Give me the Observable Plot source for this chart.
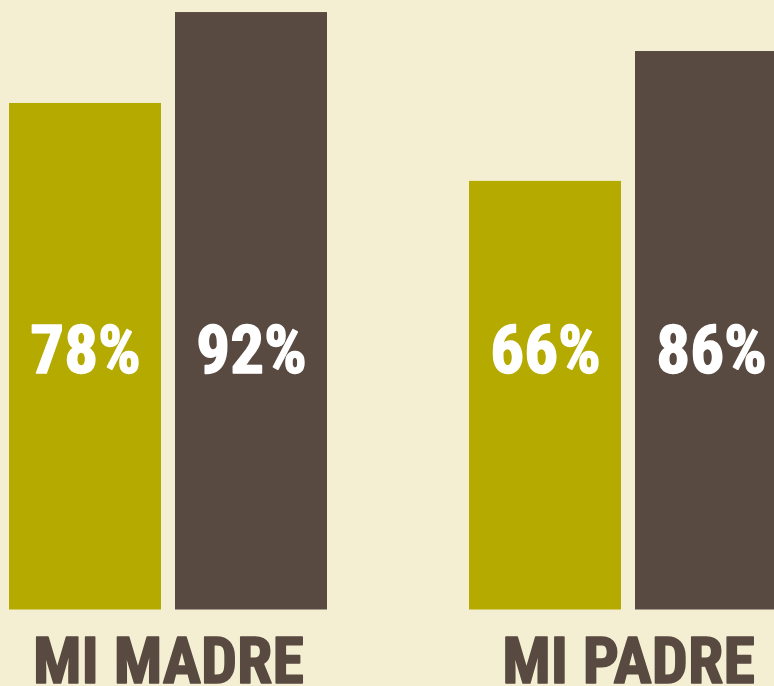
<!DOCTYPE html>
<html>
<head>
<meta charset="utf-8">
<script src="https://cdn.jsdelivr.net/npm/d3@7"></script>
<script src="https://cdn.jsdelivr.net/npm/@observablehq/plot@0.6"></script>
<style>
  html, body { margin: 0; padding: 0; background: #f4efd3; }
  #chart { width: 774px; height: 686px; overflow: hidden; }
</style>
</head>
<body>
<div id="chart"></div>
<script>
// Data
const categories = ["MI MADRE", "MI PADRE"];
const series = ["Serie A", "Serie B"];
const valuesA = [78, 66];
const valuesB = [92, 86];
const colors = ["#b5aa00", "#594a41"];

const data = categories.flatMap((c, i) => [
  {group: c, series: series[0], value: valuesA[i]},
  {group: c, series: series[1], value: valuesB[i]}
]);

const font = '"Liberation Sans Narrow", "Roboto Condensed", "DejaVu Sans Condensed", "Liberation Sans", sans-serif';

const chart = Plot.plot({
  width: 774,
  height: 686,
  marginTop: 92,
  marginBottom: 76,
  marginLeft: 0,
  marginRight: 0,
  style: {background: "#f4efd3", fontFamily: font, fontStretch: "condensed"},
  fx: {domain: categories, range: [9, 787], paddingInner: 142 / 460, paddingOuter: 0, axis: null, label: null},
  x: {domain: series, paddingInner: 14 / 166, paddingOuter: 0, axis: null},
  y: {domain: [0, 100], range: [609.5, -39.9], axis: null},
  color: {domain: series, range: colors},
  marks: [
    Plot.barY(data, {fx: "group", x: "series", y: "value", fill: "series"}),
    Plot.text(data, {
      fx: "group", x: "series", text: d => d.value + "%",
      frameAnchor: "middle", fill: "white", stroke: "white", strokeWidth: 1.5,
      fontSize: 67, fontWeight: "bold"
    }),
    Plot.text(categories, {
      fx: d => d, text: d => d,
      frameAnchor: "bottom", lineAnchor: "top", dy: 27,
      fill: "#594a41", stroke: "#594a41", strokeWidth: 1.5,
      fontSize: 64, fontWeight: "bold"
    })
  ]
});
document.getElementById("chart").appendChild(chart);
</script>
</body>
</html>
